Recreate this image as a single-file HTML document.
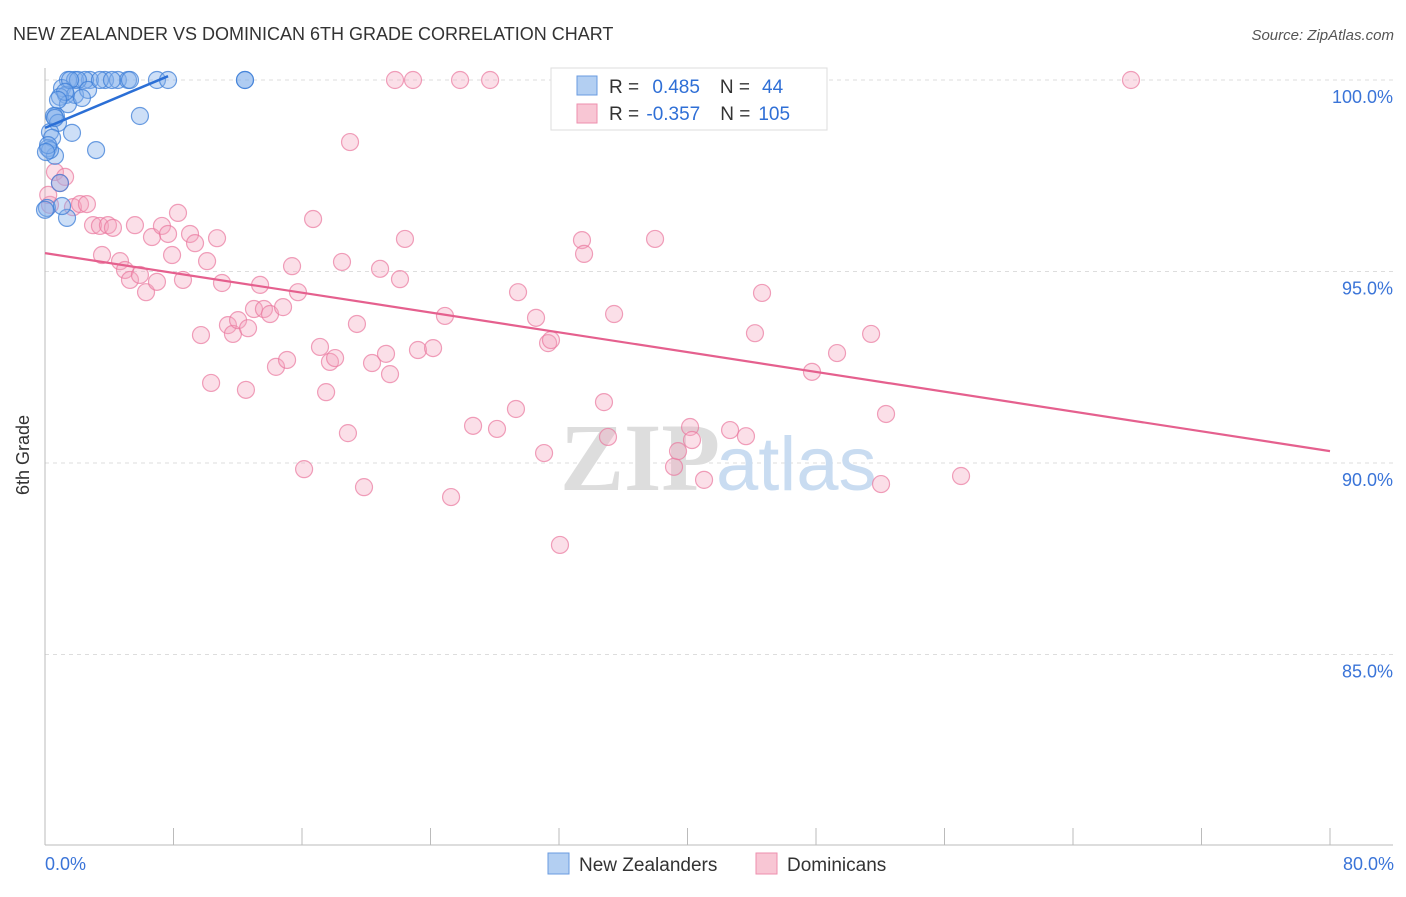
<!DOCTYPE html>
<html><head><meta charset="utf-8"><style>
body{margin:0;background:#fff;font-family:"Liberation Sans",sans-serif;}
</style></head><body>
<svg width="1406" height="892" xmlns="http://www.w3.org/2000/svg">
<text x="13" y="40" font-size="18" fill="#333">NEW ZEALANDER VS DOMINICAN 6TH GRADE CORRELATION CHART</text>
<text x="1394" y="40" font-size="15" fill="#555" text-anchor="end" font-style="italic">Source: ZipAtlas.com</text>
<g id="grid"></g>
<text x="720" y="490" font-size="96" font-family="Liberation Serif,serif" font-weight="bold" fill="#ddd" text-anchor="end">ZIP</text>
<text x="716" y="490" font-size="76" fill="#c9dcf1">atlas</text>
<g id="pts"></g>
<g id="lines"></g>
<text x="29" y="455" font-size="18" fill="#333" transform="rotate(-90 29 455)" text-anchor="middle">6th Grade</text>
<g>
<rect x="551" y="68" width="276" height="62" fill="#fff" stroke="#ddd"/>
<rect x="577" y="76" width="20" height="19" fill="#b3cff2" stroke="#6a9be0"/>
<rect x="577" y="104" width="20" height="19" fill="#f8c6d4" stroke="#ee8fae"/>
<text x="609" y="93" font-size="19" fill="#333">R = <tspan fill="#2f6fd6" dx="8">0.485</tspan><tspan dx="20" fill="#333">N =</tspan><tspan dx="12" fill="#2f6fd6">44</tspan></text>
<text x="609" y="120" font-size="19" fill="#333">R = <tspan fill="#2f6fd6" dx="2">-0.357</tspan><tspan dx="20" fill="#333">N =</tspan><tspan dx="8" fill="#2f6fd6">105</tspan></text>
</g>
<g>
<rect x="548" y="853" width="21" height="21" fill="#b3cff2" stroke="#6a9be0"/>
<text x="579" y="871" font-size="19" fill="#333">New Zealanders</text>
<rect x="756" y="853" width="21" height="21" fill="#f8c6d4" stroke="#ee8fae"/>
<text x="787" y="871" font-size="19" fill="#333">Dominicans</text>
</g>
</svg>
<script>
const yTicks=[100,95,90,85];
const xTickLabels=["0.0%","80.0%"];
const blueX=[1.43,1.87,2.80,3.74,4.54,5.17,5.29,6.97,7.66,12.45,12.45,2.49,2.05,1.06,1.31,1.87,2.68,0.93,1.43,0.68,0.56,0.81,0.31,0.44,1.68,0.19,3.18,5.91,0.62,0.12,0.93,1.37,0.31,0.19,2.30,3.42,1.56,4.17,1.25,0.81,0.06,1.06,0,0.62];
const blueY=[100,100,100,100,100,100,100,100,100,100,100,100,100,99.79,99.61,99.61,99.74,99.56,99.37,99.06,99.06,98.88,98.64,98.49,98.62,98.22,98.17,99.06,98.02,96.66,97.31,96.40,98.17,98.30,99.53,100,100,100,99.69,99.48,98.12,96.71,96.61,99.01];
const pinkX=[21.79,22.91,25.84,27.71,32.50,43.58,67.61,18.99,0.62,1.25,0.93,1.74,2.18,2.61,2.99,3.42,3.92,4.23,5.60,6.66,7.28,7.66,8.28,9.03,9.34,7.91,10.09,10.71,3.55,4.67,4.98,5.29,5.91,6.29,6.97,8.59,11.02,13.39,15.38,15.75,16.69,18.49,20.86,22.10,22.41,9.71,11.39,11.70,12.02,12.64,13.01,13.63,14.01,14.82,10.34,12.51,14.38,15.07,17.12,17.74,18.06,19.42,17.50,20.36,21.23,21.48,23.22,24.16,24.90,29.45,30.57,31.32,31.50,33.43,33.56,35.43,37.98,44.64,44.20,49.31,47.75,51.43,52.36,18.86,16.13,19.86,25.28,26.65,28.14,29.32,31.07,32.06,34.80,35.05,39.16,39.41,40.16,40.28,41.03,42.65,43.64,52.05,57.03,0.31,0.2];
const pinkY=[100,100,100,100,100,100,100,98.38,97.60,97.47,97.31,96.68,96.76,96.76,96.21,96.19,96.21,96.14,96.21,95.90,96.19,95.98,96.53,95.98,95.74,95.43,95.27,95.87,95.43,95.27,95.04,94.78,94.91,94.46,94.73,94.78,94.70,94.65,95.14,94.46,96.37,95.25,95.07,94.80,95.85,93.34,93.60,93.37,93.73,93.52,94.02,94.02,93.89,94.07,92.09,91.91,92.51,92.69,93.03,92.64,92.74,93.63,91.85,92.61,92.85,92.32,92.95,93.00,93.84,94.46,93.79,93.13,93.21,95.82,95.46,93.89,95.85,94.44,93.39,92.87,92.38,93.37,91.28,90.78,89.84,89.37,89.11,90.97,90.89,91.41,90.26,87.86,91.59,90.68,89.90,90.31,90.94,90.60,89.56,90.86,90.70,89.45,89.66,96.74,97.0];
const blueTrend=[[0,98.75],[7.66,100.1]];
const pinkTrend=[[0,95.48],[80,90.31]];
const NS="http://www.w3.org/2000/svg";
function xs(v){return 45+v/80*1285;}
function ys(v){return 80+(100-v)*38.3;}
function mk(t,a,p){const e=document.createElementNS(NS,t);for(const k in a)e.setAttribute(k,a[k]);p.appendChild(e);return e;}
const grid=document.getElementById('grid'),svg=grid.ownerSVGElement;
yTicks.forEach(t=>{
 const l=mk('line',{x1:45,x2:1393,y1:ys(t),y2:ys(t),stroke:'#ddd','stroke-dasharray':'4,4'},grid);
 
 
 const tx=mk('text',{x:1393,y:ys(t)+23,'font-size':18,fill:'#3a74d8','text-anchor':'end'},grid);
 tx.textContent=t.toFixed(1)+'%';
 
 
});
const ax=mk('line',{x1:45,x2:45,y1:68,y2:845,stroke:'#bbb'},grid);


const bx=mk('line',{x1:45,x2:1393,y1:845,y2:845,stroke:'#bbb'},grid);


for(let i=0;i<=10;i++){const v=i*8;const tk=mk('line',{x1:xs(v),x2:xs(v),y1:828,y2:845,stroke:'#bbb'},grid);
 
 }
[[0,45,'start'],[1,1394,'end']].forEach(([i,x,a])=>{const t=mk('text',{x:x,y:870,'font-size':18,fill:'#3a74d8','text-anchor':a},grid);t.textContent=xTickLabels[i];
 
 });
const pts=document.getElementById('pts');
pinkX.forEach((x,i)=>{const c=mk('circle',{cx:xs(x),cy:ys(pinkY[i]),r:8.5,fill:'rgba(244,164,190,0.35)',stroke:'rgba(234,120,158,0.7)','stroke-width':1.2},pts);
 
 });
blueX.forEach((x,i)=>{const c=mk('circle',{cx:xs(x),cy:ys(blueY[i]),r:8.5,fill:'rgba(130,175,235,0.4)',stroke:'rgba(60,125,215,0.75)','stroke-width':1.2},pts);
 
 });
const lines=document.getElementById('lines');
const lb=mk('line',{x1:xs(blueTrend[0][0]),y1:ys(blueTrend[0][1]),x2:xs(blueTrend[1][0]),y2:ys(blueTrend[1][1]),stroke:'#2b6fd6','stroke-width':2.5},lines);


const lp=mk('line',{x1:xs(pinkTrend[0][0]),y1:ys(pinkTrend[0][1]),x2:xs(pinkTrend[1][0]),y2:ys(pinkTrend[1][1]),stroke:'#e5608e','stroke-width':2.2},lines);


</script>
</body></html>
